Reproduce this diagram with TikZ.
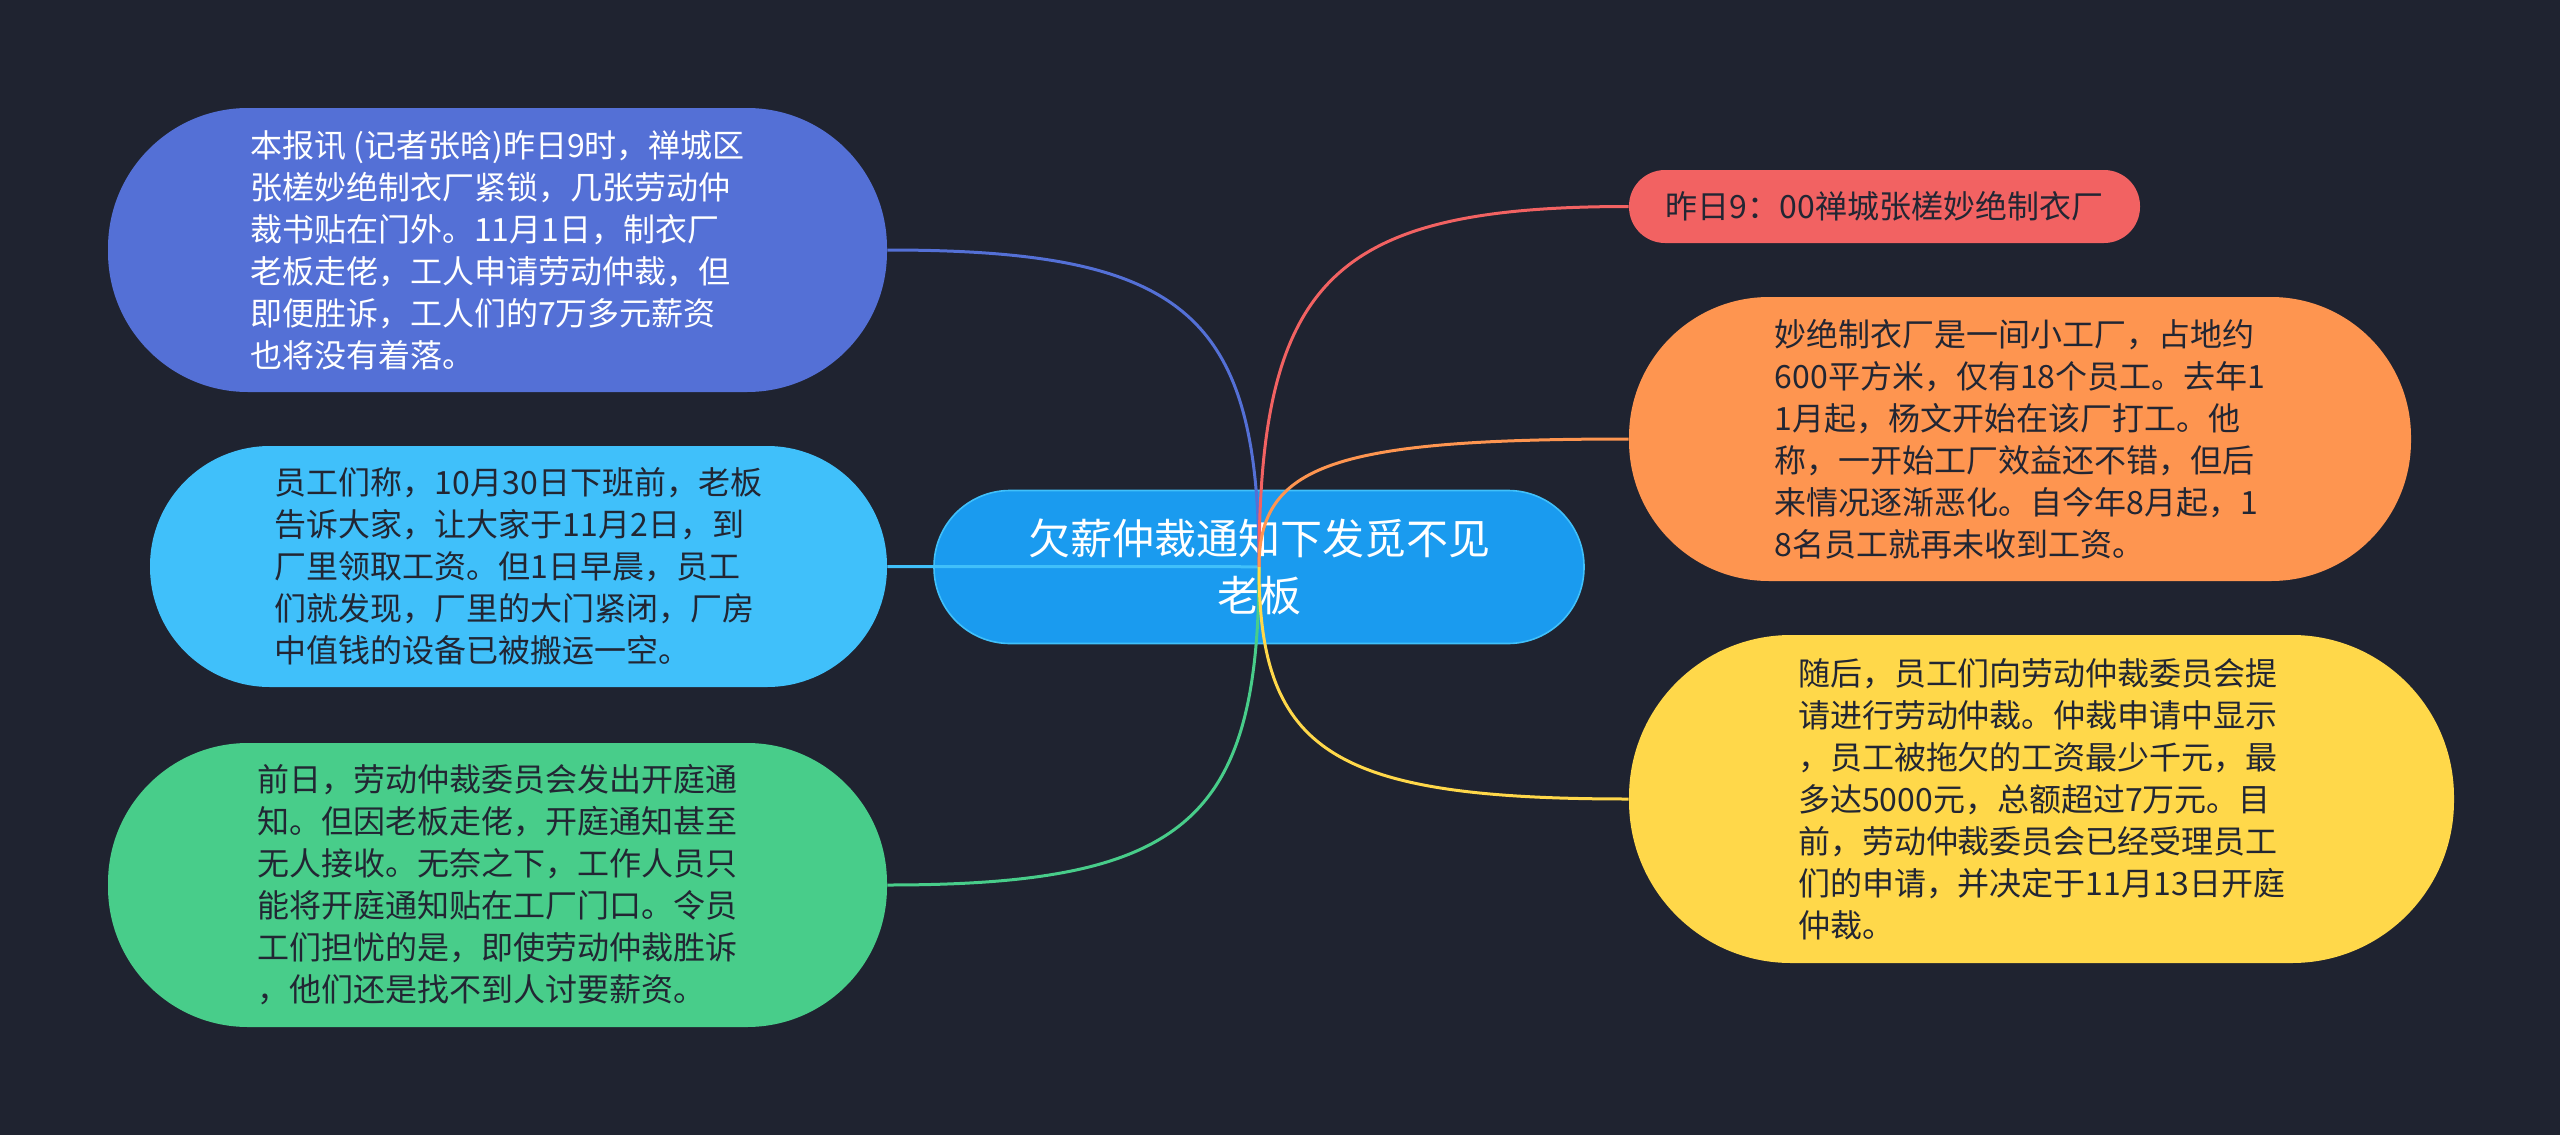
\documentclass[tikz,border=0pt]{standalone}
\usepackage{fontspec}
\setmainfont{Noto Sans CJK SC}
\usetikzlibrary{calc}
\definecolor{bg}{HTML}{1F2330}
\definecolor{cblue}{HTML}{5470D6}
\definecolor{clight}{HTML}{40C0FA}
\definecolor{cgreen}{HTML}{48CD8A}
\definecolor{cred}{HTML}{F26262}
\definecolor{corange}{HTML}{FE9550}
\definecolor{cyellow}{HTML}{FFD84A}
\definecolor{ccenter}{HTML}{1A9BEF}
\definecolor{dtext}{HTML}{222633}
\newcommand\myedge[2]{\draw[#1, line width=1.5pt] (c.center) .. controls ($(c.center)!0.8!(c.center|-#2)$) and ($(#2)!0.8!(c.center|-#2)$) .. (#2);}
\begin{document}
\begin{tikzpicture}[x=0.5pt,y=-0.5pt,
  bubble/.style={rectangle, align=left, inner sep=0pt, font=\fontsize{16}{21}\selectfont},
]
\fill[bg] (0,0) rectangle (2560,1135);
\useasboundingbox (0,0) rectangle (2560,1135);

\node[bubble, fill=cblue, text=white, minimum width=389.5pt, minimum height=142pt, rounded corners=70pt] (n1) at (497.5,250) {本报讯 (记者张晗)昨日9时，禅城区\\张槎妙绝制衣厂紧锁，几张劳动仲\\裁书贴在门外。11月1日，制衣厂\\老板走佬，工人申请劳动仲裁，但\\即便胜诉，工人们的7万多元薪资\\也将没有着落。};

\node[bubble, fill=clight, text=dtext, minimum width=368.5pt, minimum height=120.5pt, rounded corners=60pt] (n2) at (518.5,566.5) {员工们称，10月30日下班前，老板\\告诉大家，让大家于11月2日，到\\厂里领取工资。但1日早晨，员工\\们就发现，厂里的大门紧闭，厂房\\中值钱的设备已被搬运一空。};

\node[bubble, fill=cgreen, text=dtext, minimum width=389.5pt, minimum height=142pt, rounded corners=70pt] (n3) at (497.5,885) {前日，劳动仲裁委员会发出开庭通\\知。但因老板走佬，开庭通知甚至\\无人接收。无奈之下，工作人员只\\能将开庭通知贴在工厂门口。令员\\工们担忧的是，即使劳动仲裁胜诉\\，他们还是找不到人讨要薪资。};

\node[bubble, fill=cred, text=dtext, minimum width=255.5pt, minimum height=36.5pt, rounded corners=18pt] (n4) at (1884.5,206.5) {昨日9：00禅城张槎妙绝制衣厂};

\node[bubble, fill=corange, text=dtext, minimum width=391pt, minimum height=142pt, rounded corners=70pt] (n5) at (2020,439) {妙绝制衣厂是一间小工厂，占地约\\600平方米，仅有18个员工。去年1\\1月起，杨文开始在该厂打工。他\\称，一开始工厂效益还不错，但后\\来情况逐渐恶化。自今年8月起，1\\8名员工就再未收到工资。};

\node[bubble, fill=cyellow, text=dtext, minimum width=412.5pt, minimum height=164pt, rounded corners=81pt] (n6) at (2041.5,799) {随后，员工们向劳动仲裁委员会提\\请进行劳动仲裁。仲裁申请中显示\\，员工被拖欠的工资最少千元，最\\多达5000元，总额超过7万元。目\\前，劳动仲裁委员会已经受理员工\\们的申请，并决定于11月13日开庭\\仲裁。};

\node[rectangle, align=center, inner sep=0pt, fill=ccenter, draw=clight, line width=0.8pt, text=white, minimum width=325pt, minimum height=76.5pt, rounded corners=38pt, font=\fontsize{21}{28.5}\selectfont] (c) at (1259,567) {欠薪仲裁通知下发觅不见\\老板};

\myedge{cblue}{n1.east}
\myedge{clight}{n2.east}
\myedge{cgreen}{n3.east}
\myedge{cred}{n4.west}
\myedge{corange}{n5.west}
\myedge{cyellow}{n6.west}
\end{tikzpicture}
\end{document}
